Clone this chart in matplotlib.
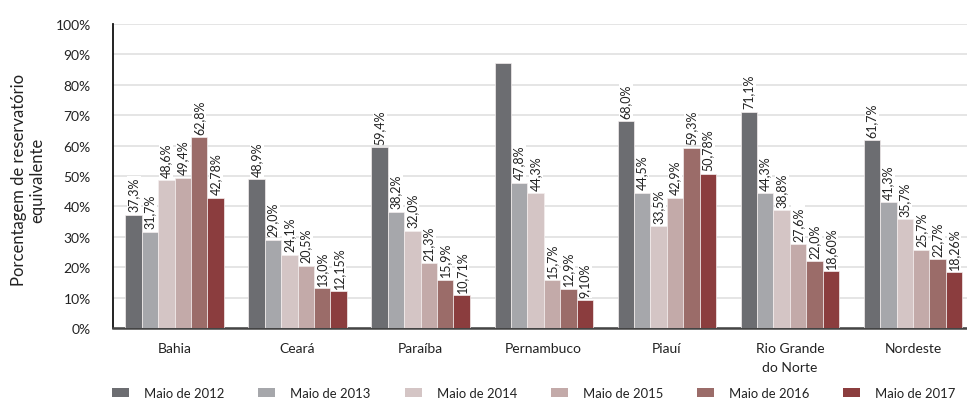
import matplotlib
matplotlib.use("Agg")
import matplotlib.pyplot as plt
import numpy as np

plt.rcParams['font.family'] = ['Lato', 'DejaVu Sans']

# Estados e séries
categories = ["Bahia", "Ceará", "Paraíba", "Pernambuco", "Piauí", "Rio Grande\ndo Norte", "Nordeste"]
series_names = ["Maio de 2012", "Maio de 2013", "Maio de 2014", "Maio de 2015", "Maio de 2016", "Maio de 2017"]

# Porcentagem de reservatório equivalente (%) por série, na ordem dos estados
maio_2012 = [37.3, 48.9, 59.4, 87.2, 68.0, 71.1, 61.7]
maio_2013 = [31.7, 29.0, 38.2, 47.8, 44.5, 44.3, 41.3]
maio_2014 = [48.6, 24.1, 32.0, 44.3, 33.5, 38.8, 35.7]
maio_2015 = [49.4, 20.5, 21.3, 15.7, 42.9, 27.6, 25.7]
maio_2016 = [62.8, 13.0, 15.9, 12.9, 59.3, 22.0, 22.7]
maio_2017 = [42.78, 12.15, 10.71, 9.10, 50.78, 18.60, 18.26]
series_values = [maio_2012, maio_2013, maio_2014, maio_2015, maio_2016, maio_2017]

# casas decimais do rótulo de cada série
label_decimals = [1, 1, 1, 1, 1, 2]
# barras sem rótulo: (índice do estado, índice da série)
unlabelled = {(3, 0)}

colors = ["#6c6d71", "#a6a7ab", "#d4c5c5", "#c3aaa9", "#9b6c69", "#8b3d3e"]

W, H = 967, 402
fig = plt.figure(figsize=(W / 100, H / 100), dpi=100)
ax = fig.add_axes([113 / W, 73 / H, (974.5 - 113) / W, 304 / H])

x = np.arange(len(categories))
n = len(series_names)
bw = 0.8 / n

for j, (name, vals, col) in enumerate(zip(series_names, series_values, colors)):
    pos = x - 0.4 + bw * (j + 0.5)
    bars = ax.bar(pos, vals, width=bw, color=col, edgecolor="#f4eeee",
                  linewidth=0.5, label=name, zorder=3)
    for i, (b, v) in enumerate(zip(bars, vals)):
        if (i, j) in unlabelled:
            continue
        txt = f"{v:.{label_decimals[j]}f}".replace(".", ",") + "%"
        ax.annotate(txt, (b.get_x() + b.get_width() / 2, v),
                    xytext=(0, 2.5), textcoords="offset points",
                    rotation=90, ha="center", va="bottom", fontsize=9,
                    color="#222222", zorder=5,
                    bbox=dict(boxstyle="square,pad=0.08", fc="white", ec="none"))

ax.set_xlim(-0.5, len(categories) - 0.5)
ax.set_ylim(0, 100)
ax.set_yticks(np.arange(0, 101, 10))
ax.set_yticklabels([f"{t}%" for t in range(0, 101, 10)], fontsize=10, color="#222222")
ax.set_xticks(x)
ax.set_xticklabels(categories, fontsize=10, color="#222222", linespacing=1.75, va="top")
ax.tick_params(axis="both", length=0)
ax.tick_params(axis="x", pad=10)
ax.tick_params(axis="y", pad=16)
for lbl in ax.get_yticklabels():
    lbl.set_horizontalalignment("right")

ax.grid(axis="y", color="#e3e3e3", linewidth=1.3, zorder=0)
ax.set_axisbelow(True)
for s in ["top", "right"]:
    ax.spines[s].set_visible(False)
ax.spines["left"].set_color("#111111")
ax.spines["left"].set_linewidth(1.3)
ax.spines["bottom"].set_color("#444444")
ax.spines["bottom"].set_linewidth(1.8)

fig.text(28 / W, 1 - 180 / H, "Porcentagem de reservatório\nequivalente",
         rotation=90, ha="center", va="center", fontsize=12,
         color="#222222", linespacing=1.15)

handles, labels = ax.get_legend_handles_labels()
leg = fig.legend(handles, labels, loc="center left", ncol=6,
                 bbox_to_anchor=(112 / W, 1 - 394 / H), frameon=False,
                 fontsize=9.4, handlelength=1.3, handleheight=0.75,
                 handletextpad=1.15, columnspacing=2.6, borderaxespad=0,
                 borderpad=0)
for h in leg.legend_handles:
    h.set_edgecolor("none")
for t in leg.get_texts():
    t.set_color("#222222")

fig.savefig("out.png", dpi=100)
